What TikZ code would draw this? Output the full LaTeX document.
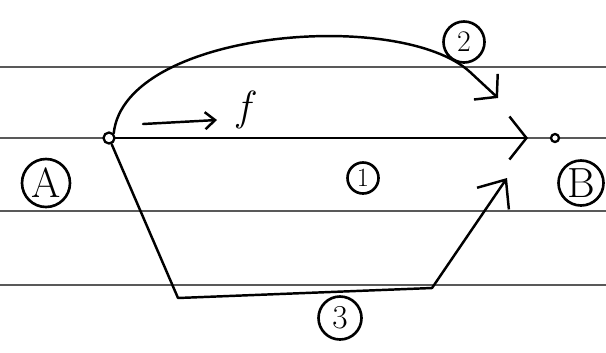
\documentclass[tikz,border=0pt]{standalone}
\usepackage{tikz}
\usetikzlibrary{arrows.meta,positioning}

\begin{document}
\begin{tikzpicture}[x=0.2mm,y=-0.2mm,line cap=round,line join=round,
   rule/.style={black!65,line width=0.8pt},
   route/.style={line width=1.4pt},
   pt/.style={draw,circle,fill=white,inner sep=0pt,line width=1.3pt},
   tag/.style={draw,circle,inner sep=0pt,line width=1.5pt}]
  \useasboundingbox (0,0) rectangle (606,352);
  % ruled paper
  \foreach \y in {67,138,211,285}
    \draw[rule] (0,\y) -- (606,\y);
  % end points
  \node[pt,minimum size=2.2mm] (A) at (109,138) {};
  \node[pt,minimum size=1.6mm] (B) at (555,138) {};
  \node[tag,minimum size=9.6mm,font=\fontsize{24}{28}\selectfont] (la) at (46,183) {A};
  \node[tag,minimum size=9mm,font=\fontsize{24}{28}\selectfont] (lb) at (581,183) {B};
  % path labels
  \node[tag,minimum size=6.2mm,font=\fontsize{15}{18}\selectfont] (n1) at (363,178) {1};
  \node[tag,minimum size=8.2mm,font=\fontsize{17}{20}\selectfont] (n2) at (464,42) {2};
  \node[tag,minimum size=8.6mm,font=\fontsize{19}{22}\selectfont] (n3) at (340,318) {3};
  % force
  \node[font=\fontsize{24}{28}\selectfont\itshape] (f) at (244,110) {f};
  \coordinate (fs) at (143,124);
  \coordinate (fe) at (217,120);
  \draw[route,-{Straight Barb[length=2mm,width=3.4mm]}] (fs) -- (fe);
  % path 1
  \coordinate (t1) at (528,138);
  \draw[route,-{Straight Barb[length=3.4mm,width=8.6mm]}] (A) -- (t1);
  % path 2
  \coordinate (c2) at (470,72);
  \coordinate (t2) at (498,98);
  \draw[route,-{Straight Barb[length=3mm,width=7mm]}] (A.north east)
       .. controls (125,30) and (400,8) .. (c2) -- (t2);
  % path 3
  \coordinate (p3a) at (178,298);
  \coordinate (p3b) at (432,288);
  \coordinate (t3) at (507,178);
  \draw[route,-{Straight Barb[length=4.6mm,width=7.7mm]}] (A) -- (p3a) -- (p3b) -- (t3);
\end{tikzpicture}
\end{document}
